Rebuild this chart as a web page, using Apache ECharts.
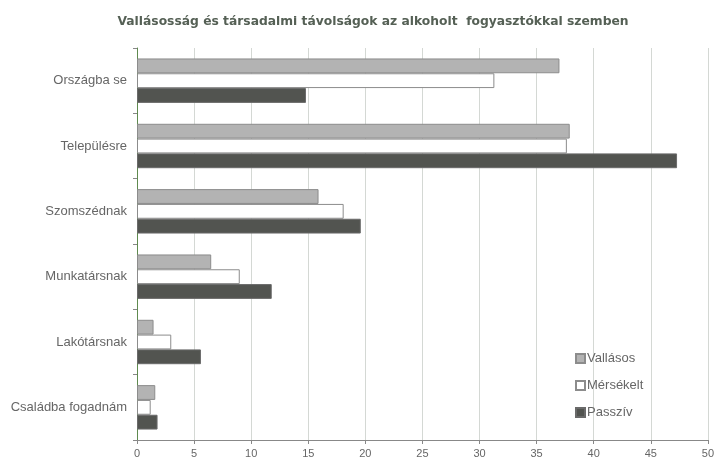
<!DOCTYPE html>
<html><head><meta charset="utf-8">
<script src="https://cdn.jsdelivr.net/npm/echarts@6/dist/echarts.min.js"></script>
<style>html,body{margin:0;padding:0;background:#fff}#c{width:717px;height:467px}</style>
</head><body><div id="c"></div>
<script>
var categories = ['Országba se', 'Településre', 'Szomszédnak', 'Munkatársnak', 'Lakótársnak', 'Családba fogadnám'];
var vallasos = [37.0, 37.9, 15.9, 6.5, 1.45, 1.6];
var merseklet = [31.3, 37.65, 18.1, 9.0, 3.0, 1.2];
var passziv = [14.8, 47.3, 19.6, 11.8, 5.6, 1.8];
var xTicks = [0, 5, 10, 15, 20, 25, 30, 35, 40, 45, 50];

var font = 'Liberation Sans, Arial, sans-serif';
var chart = echarts.init(document.getElementById('c'));
chart.setOption({
  animation: false,
  backgroundColor: '#fff',
  title: {
    text: 'Vallásosság és társadalmi távolságok az alkoholt  fogyasztókkal szemben',
    left: 368, textAlign: 'center', top: 11,
    textStyle: {fontFamily: 'DejaVu Sans, sans-serif', fontSize: 12.3, fontWeight: 'bold', color: '#556055'}
  },
  legend: {
    orient: 'vertical', left: 570, top: 347, itemGap: 14,
    itemWidth: 9, itemHeight: 9, icon: 'rect',
    textStyle: {fontFamily: font, fontSize: 13, color: '#666', padding: [0,0,0,-3]},
    data: ['Vallásos', 'Mérsékelt', 'Passzív']
  },
  grid: {left: 137, right: 7, top: 48, bottom: 27},
  xAxis: {
    type: 'value', min: xTicks[0], max: xTicks[xTicks.length-1], interval: 5,
    axisLine: {show: true, lineStyle: {color: '#888'}},
    axisTick: {show: true, length: 4, lineStyle: {color: '#888'}},
    axisLabel: {fontFamily: font, fontSize: 11, color: '#666', margin: 8},
    splitLine: {show: true, lineStyle: {color: '#d4d8d4', width: 1}}
  },
  yAxis: {
    type: 'category', data: categories, inverse: true,
    axisLine: {show: true, lineStyle: {color: '#5f8a4f'}},
    axisTick: {show: true, length: 4, lineStyle: {color: '#888'}},
    axisLabel: {fontFamily: font, fontSize: 13, color: '#666', margin: 10}
  },
  series: [
    {name: 'Vallásos', type: 'bar', data: vallasos, barGap: '0%', barCategoryGap: '32%',
     itemStyle: {color: '#b3b3b3', borderColor: '#8c8c8c', borderWidth: 1}},
    {name: 'Mérsékelt', type: 'bar', data: merseklet, barGap: '0%', barCategoryGap: '32%',
     itemStyle: {color: '#ffffff', borderColor: '#8c8c8c', borderWidth: 1}},
    {name: 'Passzív', type: 'bar', data: passziv, barGap: '0%', barCategoryGap: '32%',
     itemStyle: {color: '#525450', borderColor: '#6a6a6a', borderWidth: 1}}
  ]
});
</script>
</body></html>
